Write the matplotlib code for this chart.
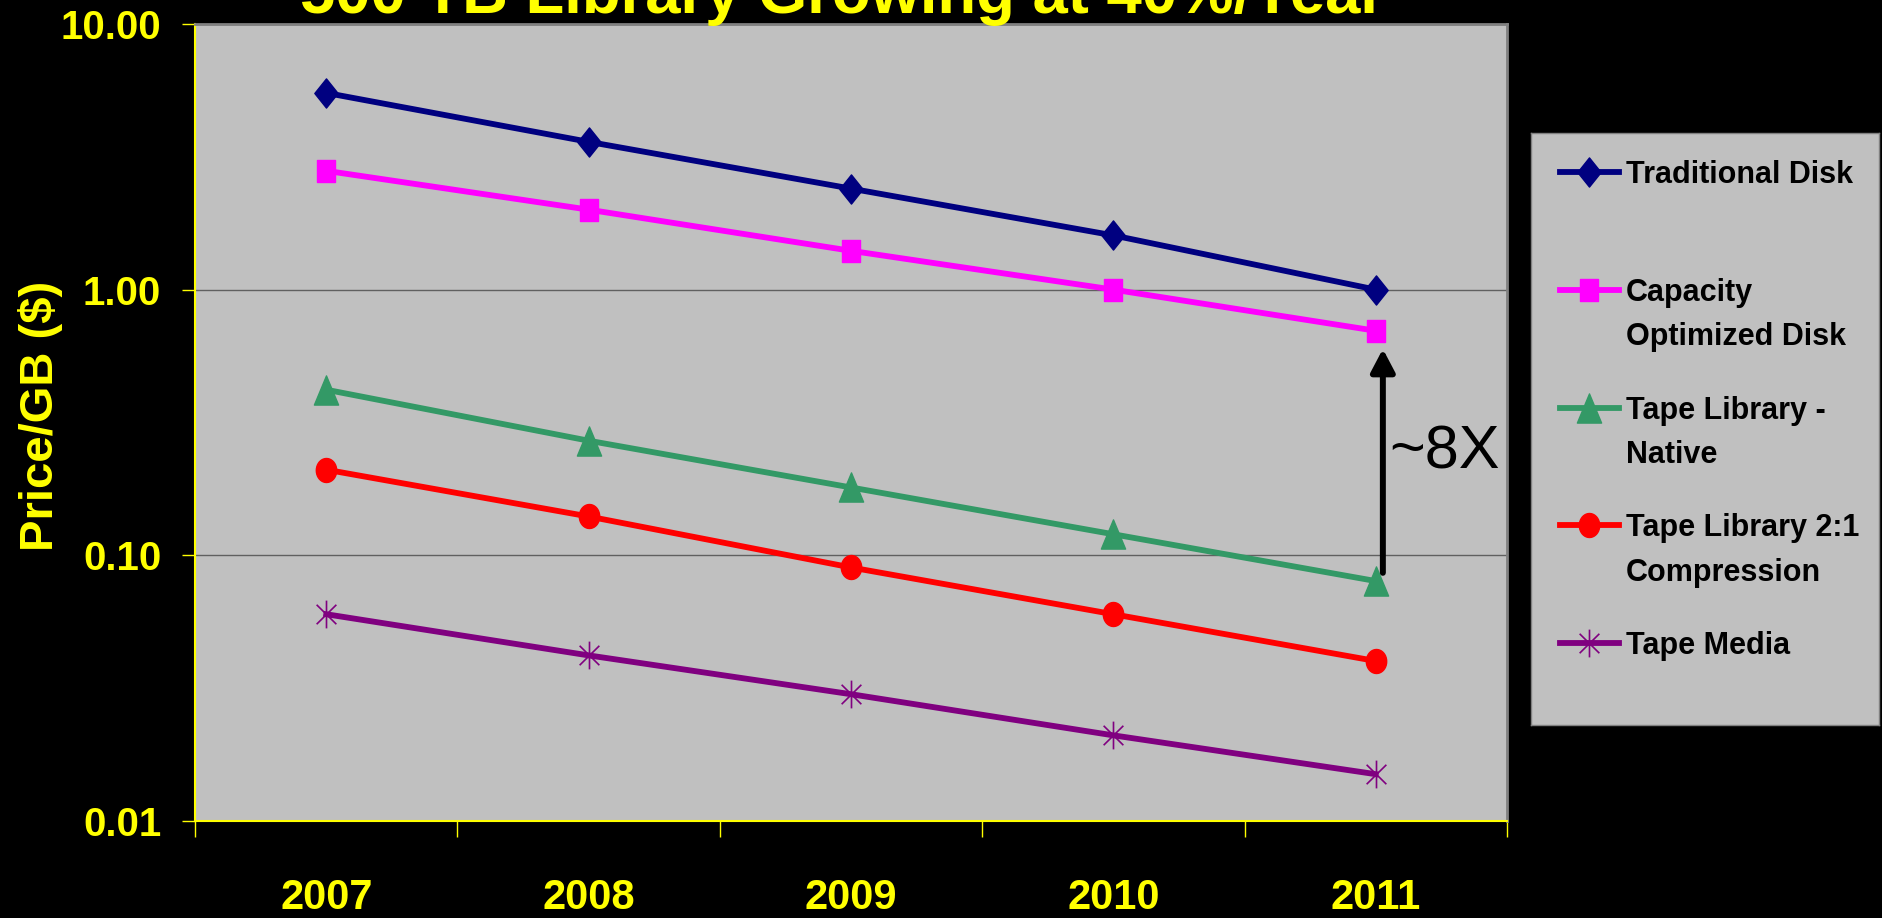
import numpy as np
import matplotlib
matplotlib.use('Agg')
import matplotlib.pyplot as plt
from matplotlib.path import Path
from matplotlib.ticker import NullLocator

# prix par GB, echelle log
years = ['2007', '2008', '2009', '2010', '2011']
traditional_disk = [5.5, 3.6, 2.4, 1.6, 1.0]
capacity_disk = [2.8, 2.0, 1.4, 1.0, 0.7]
tape_native = [0.42, 0.27, 0.18, 0.12, 0.08]
tape_compressed = [0.21, 0.14, 0.09, 0.06, 0.04]
tape_media = [0.06, 0.042, 0.03, 0.021, 0.015]
series_names = ['Traditional Disk', 'Capacity\nOptimized Disk',
                'Tape Library -\nNative', 'Tape Library 2:1\nCompression',
                'Tape Media']
y_ticks = [0.01, 0.1, 1, 10]
y_tick_labels = ['0.01', '0.10', '1.00', '10.00']

plt.rcParams['font.family'] = ['Liberation Sans', 'DejaVu Sans']
YEL = '#FFFF00'

# marqueurs style Excel (un peu etires en hauteur)
diamond = Path([(0, 1), (0.8, 0), (0, -1), (-0.8, 0), (0, 1)],
               [1, 2, 2, 2, 79])
square = Path([(-0.78, -1), (0.78, -1), (0.78, 1), (-0.78, 1), (-0.78, -1)],
              [1, 2, 2, 2, 79])
triangle = Path([(0, 1), (0.83, -1), (-0.83, -1), (0, 1)], [1, 2, 2, 79])
t = np.linspace(0, 2 * np.pi, 41)
ellipse = Path(np.column_stack([0.85 * np.cos(t), np.sin(t)]))
star = Path([(0, -1), (0, 1), (-0.71, -0.7), (0.71, 0.7), (-0.71, 0.7), (0.71, -0.7)],
            [1, 2, 1, 2, 1, 2])

styles = [
    dict(color='#000080', marker=diamond, ms=21, mew=1),
    dict(color='#FF00FF', marker=square, ms=16.5, mew=1),
    dict(color='#339966', marker=triangle, ms=21, mew=1),
    dict(color='#FF0000', marker=ellipse, ms=17.3, mew=1),
    dict(color='#800080', marker=star, ms=20, mew=1.2, mfc='none'),
]
values = [traditional_disk, capacity_disk, tape_native, tape_compressed, tape_media]

fig = plt.figure(figsize=(18.83, 9.18), dpi=100, facecolor='black')
ax = fig.add_axes([0.1036, 0.1057, 0.6967, 0.8682])
ax.set_facecolor('#C0C0C0')

x = np.arange(len(years))
for vals, st in zip(values, styles):
    ax.plot(x, vals, lw=4.2, **st)

ax.set_yscale('log')
ax.set_ylim(0.01, 10)
ax.set_xlim(-0.5, len(years) - 0.5)

ax.set_yticks(y_ticks, y_tick_labels)
ax.yaxis.set_minor_locator(NullLocator())
ax.tick_params(axis='y', length=9.4, width=1, color=YEL, pad=15,
               labelcolor=YEL, labelsize=29)
for lab in ax.get_yticklabels():
    lab.set_fontweight('bold')

ax.set_xticks(np.arange(-0.5, len(years), 1))
ax.set_xticklabels([])
ax.set_xticks(x, minor=True)
ax.set_xticklabels(years, minor=True, fontweight='bold')
ax.tick_params(axis='x', which='major', length=11.5, width=1, color=YEL)
ax.tick_params(axis='x', which='minor', length=0, pad=41,
               labelcolor=YEL, labelsize=30)

ax.grid(axis='y', which='major', color='#606060', lw=1)
for s in ['left', 'bottom']:
    ax.spines[s].set_color(YEL)
    ax.spines[s].set_linewidth(1.5)
for s in ['top', 'right']:
    ax.spines[s].set_color('#808080')
    ax.spines[s].set_linewidth(2)

ax.set_ylabel('Price/GB ($)', fontweight='bold', fontsize=34, color=YEL)
ax.yaxis.set_label_coords(-0.1006, 0.508)

# fleche ecart disque / bande
ax.annotate('', xy=(4.027, 0.598), xytext=(4.027, 0.0859),
            arrowprops=dict(arrowstyle='-|>,head_length=0.95,head_width=0.5',
                            color='black', lw=4.3, mutation_scale=14.4,
                            shrinkA=0, shrinkB=0))
ax.text(4.05, 0.213, '~8X', fontsize=44, color='black',
        va='baseline', ha='left')

fig.text(0.4473, 1 - 13 / 918, '500 TB Library Growing at 40%/Year',
         ha='center', va='baseline', fontsize=45.6, fontweight='bold', color=YEL)

# legende dessinee a la main
lax = fig.add_axes([1531 / 1883, 1 - 725 / 918, 348 / 1883, 592 / 918])
lax.set_xlim(0, 348)
lax.set_ylim(592, 0)
lax.set_facecolor('#C0C0C0')
lax.set_xticks([])
lax.set_yticks([])
for s in lax.spines.values():
    s.set_color('#808080')
    s.set_linewidth(1)

for i, (name, st) in enumerate(zip(series_names, styles)):
    y = 39 + 117.8 * i
    lax.plot([29, 58, 88], [y, y, y], lw=4.2, markevery=[1], **st)
    for k, line in enumerate(name.split('\n')):
        lax.text(95, y + 11 + 44.7 * k, line, fontsize=22,
                 fontweight='bold', color='black', va='baseline', ha='left')

fig.savefig('out.png', dpi=100, facecolor='black')
